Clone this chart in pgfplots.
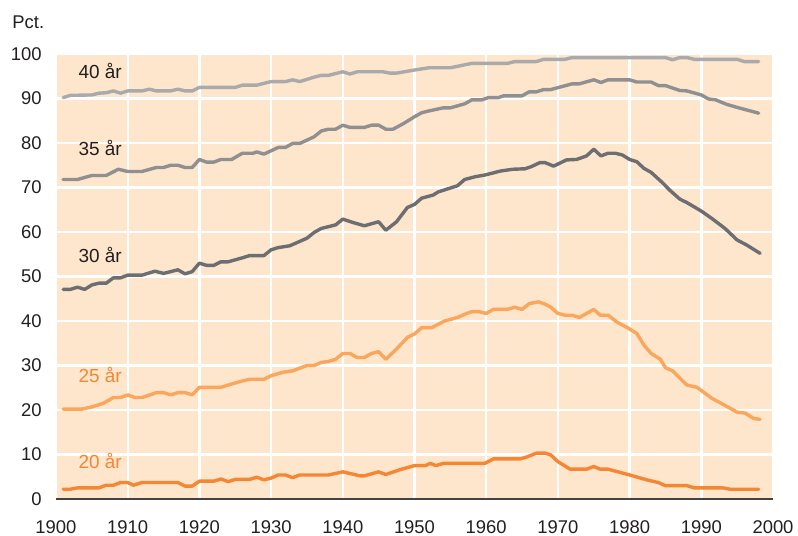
\documentclass[border=0pt]{standalone}
\usepackage{pgfplots}
\pgfplotsset{compat=1.18}
\usepackage{fontspec}
\setmainfont{Liberation Sans}
\definecolor{bgpeach}{RGB}{253,230,203}
\definecolor{cforty}{RGB}{170,170,172}
\definecolor{cthirtyfive}{RGB}{144,144,147}
\definecolor{cthirty}{RGB}{109,110,113}
\definecolor{ctwentyfive}{RGB}{250,166,92}
\definecolor{ctwenty}{RGB}{245,134,52}
\definecolor{ctext}{RGB}{35,31,32}
\begin{document}
\begin{tikzpicture}
\begin{axis}[
  scale only axis,
  width=358.5bp, height=222.5bp,
  xmin=1900, xmax=2000, ymin=0, ymax=100,
  xtick={1900,1910,...,2000}, ytick={0,10,...,100},
  /pgf/number format/1000 sep={},
  /pgf/number format/assume math mode=true,
  ticklabel style={font=\fontsize{9.25}{11}\selectfont, text=ctext},
  xticklabel style={yshift=-7.5bp},
  yticklabel style={xshift=-3.7bp},
  tick style={draw=none},
  axis line style={draw=none},
  axis background/.style={fill=bgpeach},
  grid=major,
  major grid style={white, line width=1.2bp},
  every axis plot/.append style={line width=1.7bp, line join=round, line cap=round},
  clip=false,
]
\coordinate (ll) at (rel axis cs:0,0);
\coordinate (ur) at (rel axis cs:1,1);
\addplot[cforty, no marks] coordinates {
(1901,90.2)(1902,90.7)(1905,90.8)(1906,91.2)(1907,91.3)(1908,91.7)(1909,91.2)(1910,91.7)(1912,91.7)(1913,92.1)(1914,91.7)(1916,91.7)(1917,92.1)(1918,91.7)(1919,91.7)(1920,92.5)(1925,92.5)(1926,93.0)(1928,93.0)(1930,93.8)(1932,93.8)(1933,94.2)(1934,93.8)(1936,94.8)(1937,95.2)(1938,95.2)(1940,96.0)(1941,95.5)(1942,96.0)(1945.6,96.0)(1946.6,95.7)(1947.5,95.7)(1950,96.4)(1952,96.9)(1955,96.9)(1958,97.9)(1963,97.9)(1964,98.3)(1967,98.3)(1968,98.8)(1971,98.8)(1972,99.2)(1985,99.2)(1986,98.7)(1987,99.2)(1988,99.2)(1989,98.8)(1995,98.8)(1996,98.3)(1998,98.3)
};
\addplot[cthirtyfive, no marks] coordinates {
(1901,71.8)(1903,71.8)(1905,72.7)(1907,72.7)(1908.7,74.1)(1910,73.6)(1912,73.6)(1914,74.5)(1915,74.5)(1916,75.0)(1917,75.0)(1918,74.5)(1919,74.5)(1920,76.3)(1921,75.7)(1922,75.7)(1923,76.3)(1924.5,76.3)(1926,77.7)(1927.5,77.7)(1928,78.0)(1929,77.5)(1931,79.0)(1932,79.0)(1933,79.9)(1934,79.9)(1936,81.4)(1937,82.7)(1938,83.1)(1939,83.1)(1940,84.0)(1941,83.5)(1943,83.5)(1944,84.0)(1945,84.0)(1946,83.1)(1947,83.1)(1948.5,84.4)(1950,85.9)(1951,86.8)(1952,87.2)(1954,87.9)(1955,87.9)(1957,88.8)(1958,89.7)(1959.4,89.7)(1960.3,90.2)(1961.7,90.2)(1962.4,90.6)(1965,90.6)(1966,91.5)(1967,91.5)(1968,92.0)(1969,92.0)(1972,93.3)(1973,93.3)(1975,94.2)(1976,93.6)(1977,94.2)(1980,94.2)(1981,93.7)(1983,93.7)(1984,92.9)(1985,92.9)(1987,91.8)(1988,91.7)(1990,90.8)(1991,89.9)(1992,89.7)(1993.5,88.7)(1995,88.0)(1998,86.7)
};
\addplot[cthirty, no marks] coordinates {
(1901,47.1)(1902,47.1)(1903,47.6)(1904,47.1)(1905,48.1)(1906,48.5)(1907,48.5)(1908,49.7)(1909,49.7)(1910,50.3)(1912,50.3)(1913.8,51.2)(1915,50.7)(1917,51.5)(1918,50.6)(1919,51.1)(1920,53.0)(1921,52.5)(1922,52.5)(1923,53.3)(1924,53.3)(1926,54.2)(1927,54.7)(1929,54.7)(1930,56.0)(1931,56.5)(1932.6,56.9)(1935,58.6)(1936,59.9)(1937,60.8)(1939,61.6)(1940,62.9)(1941.5,62.1)(1943,61.4)(1945,62.3)(1946,60.4)(1947.5,62.3)(1949,65.5)(1950,66.2)(1951,67.6)(1952.6,68.3)(1953.3,69.0)(1956,70.4)(1957,71.8)(1958.4,72.4)(1959.8,72.8)(1962,73.7)(1963.7,74.1)(1965.4,74.2)(1966.3,74.7)(1967.5,75.6)(1968.2,75.6)(1969.4,74.8)(1971.2,76.2)(1972.6,76.3)(1974,77.1)(1975,78.6)(1976,77.1)(1977,77.7)(1978,77.7)(1979,77.3)(1980,76.3)(1981,75.8)(1982,74.3)(1983,73.4)(1984.5,71.2)(1985.6,69.4)(1987,67.4)(1988,66.6)(1990,64.7)(1991.5,63.0)(1993.3,60.8)(1995,58.2)(1996.3,57.1)(1998.2,55.2)
};
\addplot[ctwentyfive, no marks] coordinates {
(1901,20.2)(1903.6,20.2)(1905,20.7)(1906.6,21.5)(1908,22.8)(1909,22.8)(1910,23.4)(1911,22.8)(1912,22.8)(1914,23.9)(1915,23.9)(1916,23.4)(1917,23.9)(1918,23.9)(1919,23.4)(1920,25.1)(1923,25.1)(1924,25.6)(1925.7,26.4)(1927,26.9)(1929,26.9)(1930,27.7)(1931.7,28.5)(1933,28.8)(1934,29.4)(1935,30.0)(1936,30.0)(1937,30.7)(1938,30.9)(1939,31.4)(1940,32.7)(1941,32.7)(1942,31.8)(1943,31.8)(1944,32.7)(1945,33.1)(1946,31.4)(1947.5,33.7)(1949,36.3)(1950,37.1)(1951,38.5)(1952.4,38.5)(1954.2,40.0)(1956,40.8)(1957.3,41.7)(1958,42.1)(1959,42.1)(1960,41.7)(1961,42.6)(1962.9,42.6)(1964,43.1)(1965,42.6)(1966,43.9)(1967.3,44.3)(1968.2,43.8)(1969,43.1)(1970,41.7)(1971,41.3)(1972,41.3)(1973,40.8)(1974,41.7)(1975,42.6)(1975.9,41.3)(1977,41.3)(1978.2,39.8)(1979.8,38.4)(1981,37.2)(1982,34.6)(1983,32.7)(1984.3,31.4)(1985,29.5)(1986,28.8)(1987.3,26.7)(1988,25.6)(1989.4,25.1)(1991.5,22.6)(1993,21.3)(1995,19.5)(1996.1,19.3)(1997.3,18.1)(1998.2,17.9)
};
\addplot[ctwenty, no marks] coordinates {
(1901,2.2)(1902,2.2)(1903,2.5)(1906,2.5)(1907,3.1)(1908,3.1)(1909,3.7)(1910,3.7)(1910.8,3.1)(1912,3.7)(1917,3.7)(1918,2.9)(1919,2.9)(1920,4.0)(1922,4.0)(1923,4.5)(1924,3.9)(1925,4.4)(1927,4.4)(1928,4.9)(1929,4.3)(1930,4.7)(1931,5.4)(1932,5.4)(1933,4.8)(1934,5.4)(1938,5.4)(1940,6.1)(1942.4,5.2)(1943,5.2)(1945,6.1)(1946,5.5)(1948,6.6)(1950,7.5)(1951.5,7.5)(1952.2,8.0)(1953,7.5)(1954,8.0)(1959.8,8.0)(1961,9.0)(1964.7,9.0)(1965.6,9.4)(1967,10.3)(1968.2,10.3)(1969,9.9)(1970,8.4)(1971.7,6.7)(1974,6.7)(1975,7.3)(1975.9,6.7)(1977,6.7)(1980,5.4)(1982.4,4.3)(1984,3.7)(1985,3.0)(1988,3.0)(1989,2.5)(1993,2.5)(1994,2.2)(1998,2.2)
};
\draw[color=ctext!85, line width=0.6bp] (rel axis cs:0,0) -- (rel axis cs:1,0);
\begin{scope}[every node/.style={anchor=base west, inner sep=0pt, font=\fontsize{9.5}{11}\selectfont}]
\node[text=ctext] at (axis cs:1903.1,94.4) {40 år};
\node[text=ctext] at (axis cs:1903.1,77.1) {35 år};
\node[text=ctext] at (axis cs:1903.1,53.2) {30 år};
\node[text=ctwenty] at (axis cs:1903.1,26.2) {25 år};
\node[text=ctwenty] at (axis cs:1903.1,6.9) {20 år};
\end{scope}
\node[anchor=base west, inner sep=0pt, text=ctext, font=\fontsize{9.25}{11}\selectfont] at ([shift={(-22bp,12.5bp)}]rel axis cs:0,1) {Pct.};
\end{axis}
\pgfresetboundingbox
\path ([shift={(-28bp,-18.5bp)}]ll) rectangle ([shift={(12.5bp,27bp)}]ur);
\end{tikzpicture}
\end{document}
